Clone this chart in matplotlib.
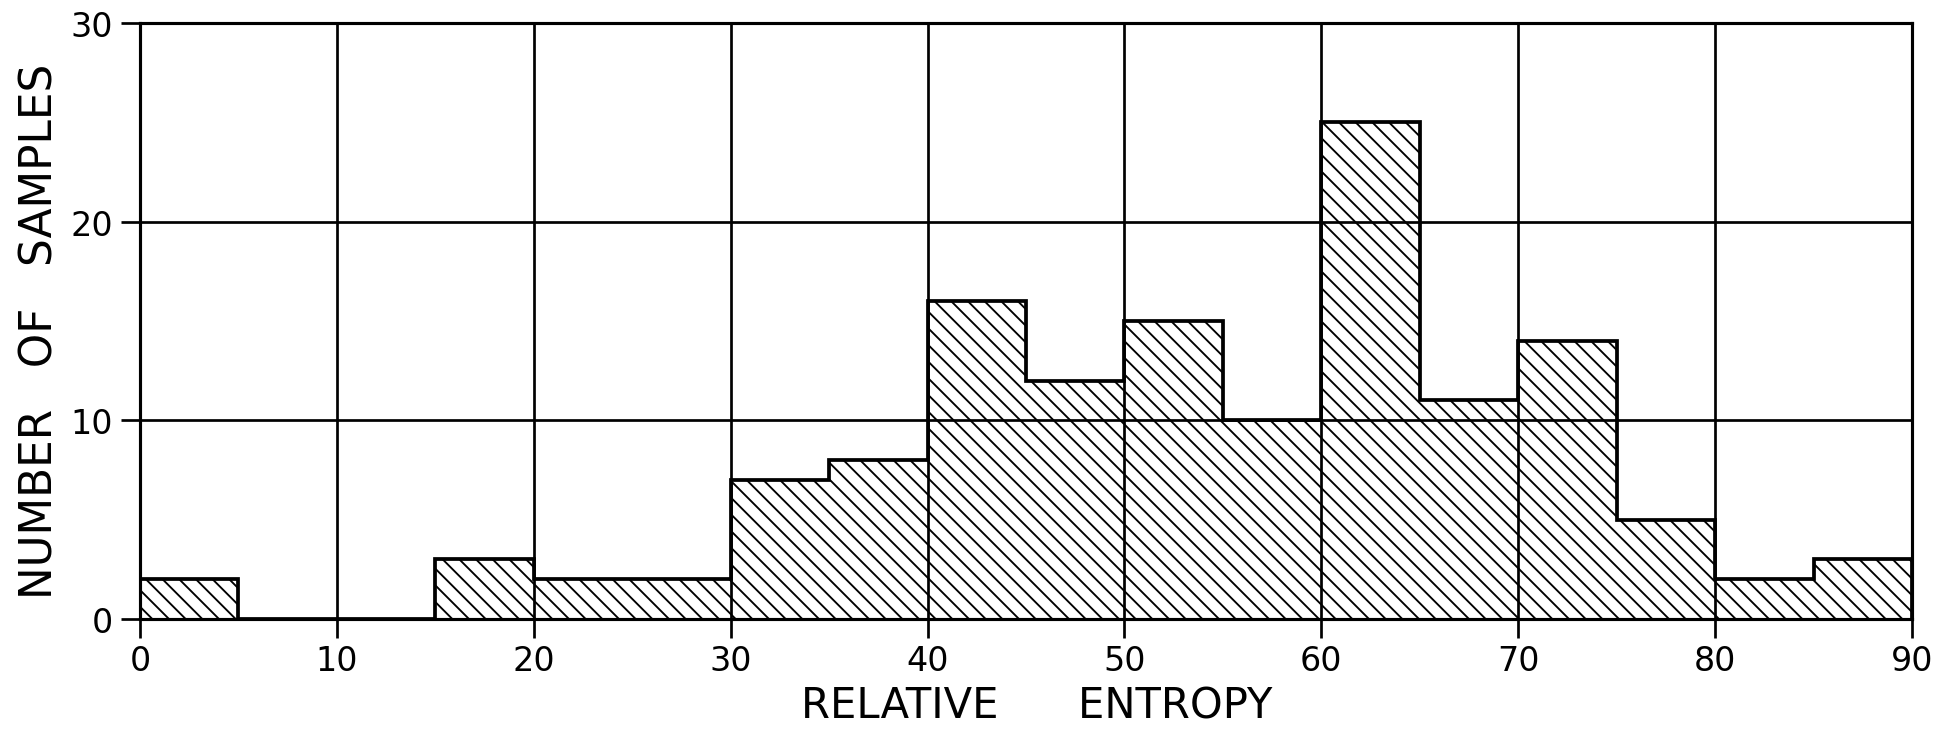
import numpy as np
import matplotlib
matplotlib.use("Agg")
import matplotlib.pyplot as plt

# ====================================
# DATA
# ====================================

bin_edges = [0, 5, 10, 15, 20, 25, 30, 35, 40, 45,
             50, 55, 60, 65, 70, 75, 80, 85, 90]
counts = [2, 0, 0, 3, 2, 2, 7, 8, 16, 12,
          15, 10, 25, 11, 14, 5, 2, 3]

x_ticks = [0, 10, 20, 30, 40, 50, 60, 70, 80, 90]
y_ticks = [0, 10, 20, 30]

x_label = "RELATIVE      ENTROPY"
y_label = "NUMBER   OF   SAMPLES"

# ====================================
# FIGURE
# ====================================

DPI = 150
plt.rcParams["hatch.linewidth"] = 0.9
plt.rcParams["font.family"] = ["DejaVu Sans"]

fig = plt.figure(figsize=(1960 / DPI, 730 / DPI), dpi=DPI)
ax = fig.add_axes([0.0714, 0.1507, 0.9041, 0.8163])

# hatched histogram
ax.stairs(
    counts,
    bin_edges,
    fill=True,
    facecolor="white",
    edgecolor="black",
    hatch="\\\\\\",
    lw=0,
    zorder=2
)

# outline of the histogram
ax.stairs(
    counts,
    bin_edges,
    baseline=0,
    color="black",
    lw=1.8,
    zorder=3
)

# grid lines drawn over the hatching
for xv in x_ticks:
    ax.axvline(xv, color="black", lw=1.3, zorder=4)
for yv in y_ticks:
    ax.axhline(yv, color="black", lw=1.3, zorder=4)

ax.set_xlim(0, 90)
ax.set_ylim(0, 30)

ax.set_xticks(x_ticks)
ax.set_yticks(y_ticks)

ax.tick_params(
    axis="both",
    direction="out",
    length=9,
    width=1.3,
    labelsize=16
)
ax.tick_params(axis="x", pad=3)
ax.tick_params(axis="y", pad=4)

for spine in ax.spines.values():
    spine.set_linewidth(1.5)

ax.set_xlabel(x_label, fontsize=20)
ax.set_ylabel(y_label, fontsize=21)

ax.xaxis.set_label_coords(0.506, -0.11)
ax.yaxis.set_label_coords(-0.044, 0.485)

fig.savefig("out.png", dpi=DPI, facecolor="white")
